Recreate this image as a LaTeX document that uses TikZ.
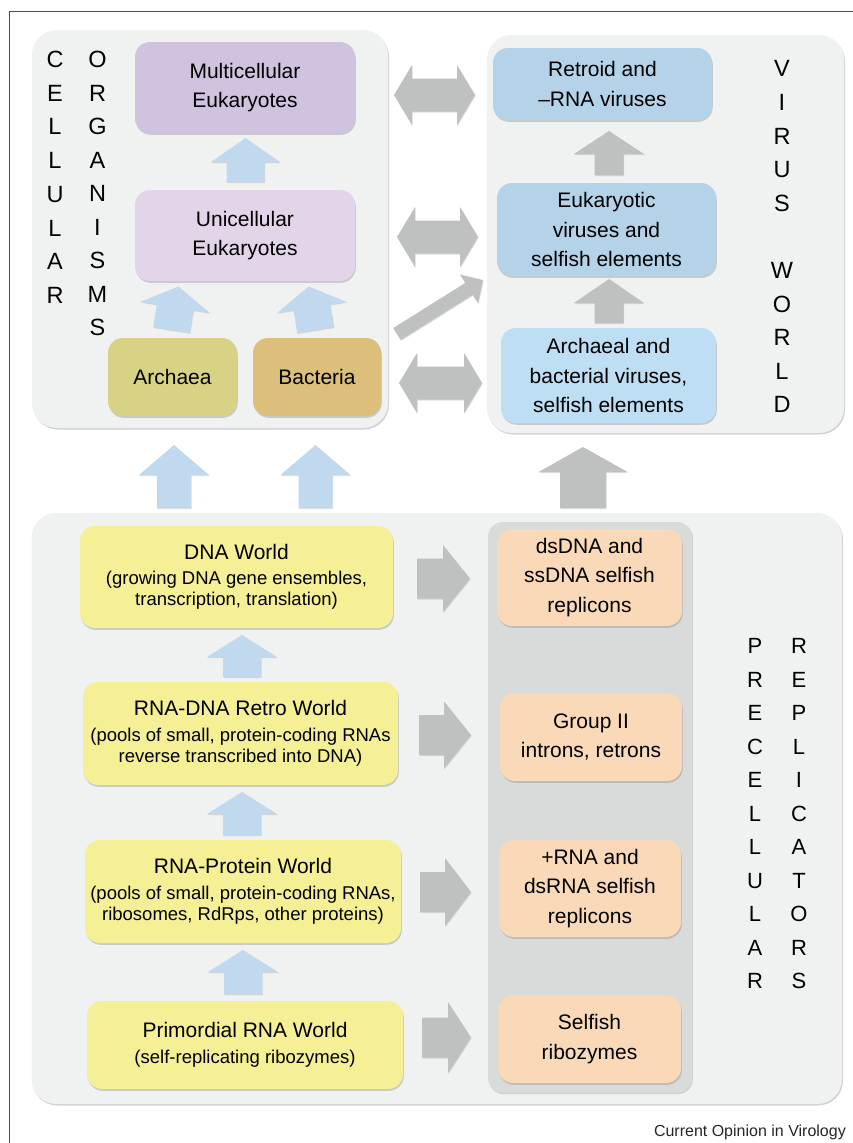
\documentclass[tikz,border=0pt]{standalone}
\usepackage{fontspec}
\setmainfont{Liberation Sans}
\usetikzlibrary{shadows}
\definecolor{panelc}{HTML}{F0F1F1}
\definecolor{columnc}{HTML}{D9DADA}
\definecolor{multic}{HTML}{CFC3DF}
\definecolor{unic}{HTML}{E2D5E9}
\definecolor{archc}{HTML}{D8D384}
\definecolor{bactc}{HTML}{DCBF7A}
\definecolor{virc}{HTML}{B4D3E8}
\definecolor{virlc}{HTML}{BDDEF3}
\definecolor{yelc}{HTML}{F5EF95}
\definecolor{peachc}{HTML}{FAD9B8}
\definecolor{garrc}{HTML}{BFC0C0}
\definecolor{barrc}{HTML}{C0D9EF}
\definecolor{framec}{HTML}{4D4D4D}
\tikzset{
  panel/.style={fill=panelc, rounded corners=25pt,
    drop shadow={shadow xshift=1pt, shadow yshift=-1.5pt, opacity=0.35}},
  box/.style={rounded corners=15pt, inner sep=0pt, align=center,
    font=\fontsize{21}{29.5}\selectfont,
    drop shadow={shadow xshift=0.8pt, shadow yshift=-1.8pt, opacity=0.35}},
  ybox/.style={box, fill=yelc, font=\fontsize{18.5}{21}\selectfont},
  pbox/.style={box, fill=peachc},
  letter/.style={anchor=base, inner sep=0pt, font=\fontsize{23.5}{23.5}\selectfont},
  sletter/.style={anchor=base, inner sep=0pt, font=\fontsize{22}{22}\selectfont},
  barrow/.style={fill=barrc, drop shadow={shadow xshift=0.6pt, shadow yshift=-1pt, opacity=0.25}},
  garrow/.style={fill=garrc, drop shadow={shadow xshift=0.6pt, shadow yshift=-1pt, opacity=0.25}},
  pics/uparr/.style n args={5}{code={%
    \fill[#5] (-#4,0) -- (-#4,{-(#1-#2)}) -- (-#3,{-(#1-#2)}) -- (0,-#1)
      -- (#3,{-(#1-#2)}) -- (#4,{-(#1-#2)}) -- (#4,0) -- cycle;}},
  pics/dblarr/.style n args={5}{code={%
    \fill[#5] ({-#1/2},0) -- ({-#1/2+#2},-#3) -- ({-#1/2+#2},-#4) -- ({#1/2-#2},-#4)
      -- ({#1/2-#2},-#3) -- ({#1/2},0) -- ({#1/2-#2},#3) -- ({#1/2-#2},#4)
      -- ({-#1/2+#2},#4) -- ({-#1/2+#2},#3) -- cycle;}},
}
\newcommand\boxat[7]{\node[#6, minimum width={#4-#2}, minimum height={#5-#3}] (#1) at ({(#2+#4)/2},{(#3+#5)/2}) {#7};}
\begin{document}
\begin{tikzpicture}[x=1pt,y=-1pt]
\useasboundingbox (0,0) rectangle (853,1143);
\fill[white] (0,0) rectangle (853,1143);
% frame
\draw[framec, line width=1pt] (853,11) -- (9,11) -- (9,1143);
% panels
\path[panel] (32,30) rectangle (388,428);
\path[panel] (487,35) rectangle (844,433);
\path[panel] (31.5,513) rectangle (842,1104);
\path[fill=columnc, rounded corners=15pt, drop shadow={shadow xshift=0.8pt, shadow yshift=-1.2pt, opacity=0.3}] (488,522) rectangle (692,1093);
% cellular organisms
\boxat{multi}{135}{42}{355}{133}{box, fill=multic}{Multicellular\\Eukaryotes}
\boxat{uni}{135}{190}{355}{281}{box, fill=unic}{Unicellular\\Eukaryotes}
\boxat{archaea}{108}{338}{237}{416}{box, fill=archc}{Archaea}
\boxat{bacteria}{253}{338}{381}{416}{box, fill=bactc}{Bacteria}
\foreach \l [count=\i from 0] in {C,E,L,L,U,L,A,R}
  \node[letter] (cel\i) at (55,{67.5+33.7*\i}) {\l};
\foreach \l [count=\i from 0] in {O,R,G,A,N,I,S,M,S}
  \node[letter] (org\i) at (97.5,{67.5+33.5*\i}) {\l};
% virus world
\boxat{retro}{493}{48}{712}{120}{box, fill=virc}{Retroid and\\–RNA viruses}
\boxat{euk}{497}{183}{716}{276}{box, fill=virc}{Eukaryotic\\viruses and\\selfish elements}
\boxat{arcv}{501}{328}{716}{423}{box, fill=virlc}{Archaeal and\\bacterial viruses,\\selfish elements}
\foreach \l [count=\i from 0] in {V,I,R,U,S,{},W,O,R,L,D}
  \node[letter] (vir\i) at (782,{76.8+33.6*\i}) {\l};
% precellular
\boxat{dna}{80}{526}{393}{628}{ybox}{{\fontsize{21}{21}\selectfont DNA World}\\[4.5pt](growing DNA gene ensembles,\\transcription, translation)}
\boxat{retroW}{83}{682}{398}{785}{ybox}{{\fontsize{21}{21}\selectfont RNA-DNA Retro World}\\[4.5pt](pools of small, protein-coding RNAs\\reverse transcribed into DNA)}
\boxat{protW}{85}{840}{401}{943}{ybox}{{\fontsize{21}{21}\selectfont RNA-Protein World}\\[4.5pt](pools of small, protein-coding RNAs,\\ribosomes, RdRps, other proteins)}
\boxat{prim}{87}{1001}{403}{1089}{ybox}{{\fontsize{21}{21}\selectfont Primordial RNA World}\\[4.5pt](self-replicating ribozymes)}
\boxat{dsdna}{497}{529}{682}{626}{pbox}{dsDNA and\\ssDNA selfish\\replicons}
\boxat{group}{500}{693}{682}{781}{pbox}{Group II\\introns, retrons}
\boxat{plusrna}{499}{840}{681}{937}{pbox}{+RNA and\\dsRNA selfish\\replicons}
\boxat{ribo}{498}{995}{681}{1083}{pbox}{Selfish\\ribozymes}
\foreach \l [count=\i from 0] in {P,R,E,C,E,L,L,U,L,A,R}
  \node[sletter] (pre\i) at (755,{653.8+33.5*\i}) {\l};
\foreach \l [count=\i from 0] in {R,E,P,L,I,C,A,T,O,R,S}
  \node[sletter] (rep\i) at (799,{653.8+33.5*\i}) {\l};
% arrows inside cellular panel
\pic at (245.5,182) {uparr={44}{24}{34.5}{19}{barrow}};
\pic[rotate=-9] at (171.5,330) {uparr={44}{21}{35}{18.5}{barrow}};
\pic[rotate=9] at (315.5,330) {uparr={44}{21}{35}{18.5}{barrow}};
% arrows inside virus panel
\pic at (609,175) {uparr={44}{23}{35}{14.5}{garrow}};
\pic at (609,323) {uparr={44}{24}{35}{14.5}{garrow}};
% between panels
\pic at (434.5,95) {dblarr={81}{18}{30}{16.5}{garrow}};
\pic at (437.5,237) {dblarr={81}{18}{30}{16.5}{garrow}};
\pic at (440.5,383) {dblarr={83}{18}{30}{16.5}{garrow}};
\pic[rotate=-57.9] at (397,334) {uparr={101.5}{16.5}{17}{7}{garrow}};
% from precellular to upper panels
\pic at (174,508) {uparr={63}{30}{35}{17}{barrow}};
\pic at (315.5,508) {uparr={63}{30}{35}{17}{barrow}};
\pic at (583,508) {uparr={61}{25}{44.5}{23}{garrow}};
% between yellow boxes
\pic at (242,677) {uparr={42}{22}{35}{19}{barrow}};
\pic at (242,835) {uparr={43}{22}{35}{19}{barrow}};
\pic at (243,994) {uparr={44}{22}{35}{19}{barrow}};
% to the selfish column
\pic[rotate=-90] at (417,578.5) {uparr={53}{27}{33.5}{20}{garrow}};
\pic[rotate=-90] at (419,735) {uparr={52}{27}{33.5}{20}{garrow}};
\pic[rotate=-90] at (420,892) {uparr={51}{26}{34}{20}{garrow}};
\pic[rotate=-90] at (422,1037.5) {uparr={49}{23}{35.5}{20}{garrow}};
% credit
\node[anchor=base east, inner sep=0pt, font=\fontsize{16}{16}\selectfont, text=black!85] (credit) at (846,1136) {Current Opinion in Virology};
\end{tikzpicture}
\end{document}
